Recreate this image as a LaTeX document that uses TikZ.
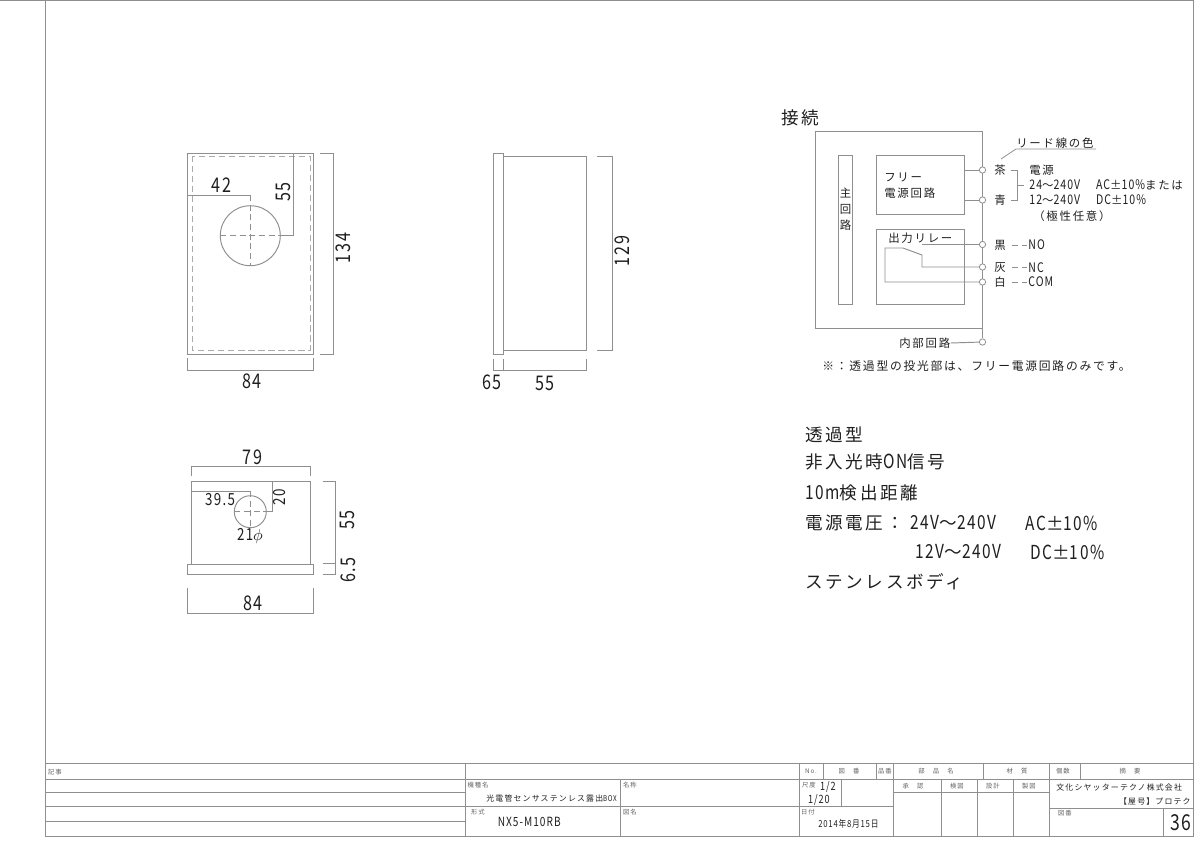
\documentclass[tikz,border=0pt]{standalone}
\usepackage{fontspec}
\setmainfont{Liberation Sans}
\newfontfamily\cjk[LetterSpace=15]{Noto Sans CJK JP}
\newfontfamily\nrw[FakeStretch=0.8,LetterSpace=8]{Noto Sans CJK JP}
\newcommand\smallnrw[1]{{\fontsize{7.5}{9}\selectfont\nrw #1}}
\newcommand\bignrw[1]{{\fontsize{11}{12}\selectfont\nrw #1}}
\definecolor{linegray}{gray}{0.56}
\definecolor{inkgray}{gray}{0.12}
\tikzset{
  part/.style={draw=linegray, line width=0.55pt},
  dim/.style={draw=linegray, line width=0.45pt},
  centerline/.style={draw=linegray, line width=0.45pt, dash pattern=on 3.5pt off 2pt},
  hidden/.style={draw=linegray!75, line width=0.55pt, dash pattern=on 3.5pt off 2.2pt},
  dimtext/.style={inner sep=0pt, text=inkgray, font=\nrw\fontsize{11.5}{13}\selectfont},
  dimsmall/.style={inner sep=0pt, text=inkgray, font=\nrw\fontsize{9.5}{11}\selectfont},
  small/.style={inner sep=0pt, text=inkgray, font=\cjk\fontsize{6.5}{9}\selectfont},
  tiny/.style={inner sep=0pt, text=inkgray!70, font=\cjk\fontsize{3.6}{4}\selectfont},
  big/.style={inner sep=0pt, anchor=west, text=inkgray, font=\cjk\fontsize{10}{12}\selectfont},
  terminal/.style={circle, draw=linegray, fill=white, line width=0.45pt, inner sep=0pt, minimum size=3.6pt}
}
\begin{document}
\begin{tikzpicture}[x=0.02cm, y=-0.02cm]
\useasboundingbox (0,0) rectangle (1200,849);

% sheet
\draw[part] (0,0.7) -- (1193,0.7) -- (1193,763);
\draw[part] (45,0.7) -- (45,836) -- (1193,836) -- (1193,763) -- (45,763);

% front view
\draw[part] (187.3,153.3) rectangle (313.3,354);
\draw[hidden] (192,156) rectangle (310,350);
\draw[part] (250.3,235.7) circle (30);
\draw[centerline] (220.3,235.7) -- (280.3,235.7);
\draw[dim] (280.3,235.7) -- (293.3,235.7) -- (293.3,153.3);
\draw[centerline] (250.3,195) -- (250.3,266);
\draw[dim] (187.3,195) -- (250.3,195);
\draw[dim] (320,153.3) -- (333,153.3) -- (333,354) -- (320,354);
\draw[dim] (187.3,358) -- (187.3,370.7) -- (313.3,370.7) -- (313.3,358);
\node[dimtext] (dimA) at (221.7,185) {42};
\node[dimtext, rotate=90] (dimB) at (283,192) {55};
\node[dimtext, rotate=90] (dimC) at (343,248) {134};
\node[dimtext] (dimD) at (252,381) {84};

% side view
\draw[part] (493.3,153.3) rectangle (503.3,354);
\draw[part] (503.3,156.7) rectangle (586,350);
\draw[dim] (596.7,156.7) -- (612.7,156.7) -- (612.7,350) -- (596.7,350);
\draw[dim] (493.3,359) -- (493.3,370.7) -- (586,370.7) -- (586,359);
\draw[dim] (503.3,359) -- (503.3,370.7);
\node[dimtext] (dimE) at (492,382) {65};
\node[dimtext] (dimF) at (545,383) {55};
\node[dimtext, rotate=90] (dimG) at (622,251) {129};

% bottom view
\draw[part] (191.7,481.7) rectangle (310,564);
\draw[part] (187.3,564) rectangle (313.3,574);
\draw[part] (250.3,511.7) circle (16);
\draw[centerline] (234.3,511.7) -- (266.3,511.7);
\draw[centerline] (250.3,491) -- (250.3,527);
\draw[dim] (266.3,511.7) -- (272.7,511.7) -- (272.7,481.7);
\draw[dim] (191.7,491) -- (250.3,491);
\draw[dim] (191.7,476) -- (191.7,466) -- (310,466) -- (310,476);
\draw[dim] (323,481.7) -- (335.7,481.7) -- (335.7,574) -- (323,574);
\draw[dim] (323,563.5) -- (335.7,563.5);
\draw[dim] (187.3,588) -- (187.3,613) -- (313.3,613) -- (313.3,588);
\node[dimtext] (dimH) at (252.7,457) {79};
\node[dimsmall] (dimI) at (220,500) {39.5};
\node[dimsmall, rotate=90] (dimJ) at (280,497) {20};
\node[dimsmall] (dimK) at (250,536) {21$\phi$};
\node[dimtext, rotate=90] (dimL) at (347,520) {55};
\node[dimtext, rotate=90] (dimM) at (348,570) {6.5};
\node[dimtext] (dimN) at (253,603) {84};

% wiring
\node[big] (title) at (781,118) {接続};
\draw[part] (815,131) rectangle (982.5,328);
\draw[part] (838,155) rectangle (852.5,304);
\draw[part] (876.5,155) rectangle (964.5,214);
\draw[part] (876.5,229) rectangle (964.5,304);
\node[small, align=center] (main) at (845.5,209) {主\\回\\路};
\node[small, anchor=west, align=left] (psu) at (884,186) {フリー\\電源回路};
\node[small, anchor=west] (relay) at (888,238) {出力リレー};
\node[terminal] (tA) at (982.5,170) {};
\node[terminal] (tB) at (982.5,200) {};
\node[terminal] (tC) at (982.5,244.5) {};
\node[terminal] (tD) at (982.5,267) {};
\node[terminal] (tE) at (982.5,282) {};
\node[terminal] (tF) at (982.5,342) {};
\draw[part] (982.5,328) -- (tF);
\draw[part] (964.5,170) -- (tA);
\draw[part] (964.5,200) -- (tB);
\draw[part] (922,244.5) -- (tC);
\draw[part] (tD) -- (922,267) -- (922,255) -- (903,248) -- (885,248) -- (885,282) -- (tE);
\node[small] (leadA) at (1000,170) {茶};
\node[small] (leadB) at (1000,200) {青};
\node[small] (leadC) at (1000,245) {黒};
\node[small] (leadD) at (1000,268) {灰};
\node[small] (leadE) at (1000,282) {白};
\draw[dim] (1001,159) -- (1016,149) -- (1096,149);
\node[small, anchor=west] (color) at (1016,143) {リード線の色};
\draw[dim] (1011,170) -- (1017,170) -- (1017,200) -- (1011,200);
\draw[dim] (1017,185) -- (1024,185);
\node[small, anchor=west] (power) at (1029,170.5) {電源};
\node[small, anchor=west] (powerA) at (1029,185) {\smallnrw{24}～\smallnrw{240V}\hspace{9pt}\smallnrw{AC}±\smallnrw{10\%}または};
\node[small, anchor=west] (powerB) at (1029,200) {\smallnrw{12}～\smallnrw{240V}\hspace{9pt}\smallnrw{DC}±\smallnrw{10\%}};
\node[small, anchor=west] (powerC) at (1033,216) {（極性任意）};
\draw[centerline] (1012,245) -- (1027,245);
\draw[centerline] (1012,267) -- (1027,267);
\draw[centerline] (1012,282) -- (1027,282);
\node[small, anchor=west] (no) at (1028,245) {\smallnrw{NO}};
\node[small, anchor=west] (nc) at (1028,268) {\smallnrw{NC}};
\node[small, anchor=west] (com) at (1028,282) {\smallnrw{COM}};
\node[small, anchor=west] (inner) at (899,343) {内部回路};
\draw[part] (inner.east) -- (tF);
\node[small, font=\cjk\fontsize{6.7}{9}\selectfont, anchor=west] (note) at (822,366.5) {※：透過型の投光部は、フリー電源回路のみです。};

% notes
\node[big] (noteA) at (805,435) {透過型};
\node[big] (noteB) at (805,462) {非入光時\bignrw{ON}信号};
\node[big] (noteC) at (805,493) {\bignrw{10m}検出距離};
\node[big] (noteD) at (805,523) {電源電圧：};
\node[big] (noteI) at (910,523) {\bignrw{24V}～\bignrw{240V}};
\node[big] (noteG) at (1025,523) {\bignrw{AC}±\bignrw{10\%}};
\node[big] (noteE) at (915,552) {\bignrw{12V}～\bignrw{240V}};
\node[big] (noteH) at (1030,552) {\bignrw{DC}±\bignrw{10\%}};
\node[big] (noteF) at (805,582) {ステンレスボディ};

% title block
\draw[part] (45,779) -- (1193,779);
\draw[part] (45,792.5) -- (465,792.5);
\draw[part] (45,806.5) -- (893,806.5);
\draw[part] (45,821) -- (465,821);
\draw[part] (465,763) -- (465,836);
\draw[part] (620,779) -- (620,836);
\draw[part] (799,763) -- (799,836);
\draw[part] (893,763) -- (893,836);
\draw[part] (1049,763) -- (1049,836);
\draw[part] (841.7,779) -- (841.7,806.5);
\draw[part] (823,763) -- (823,779);
\draw[part] (876,763) -- (876,779);
\draw[part] (983,763) -- (983,779);
\draw[part] (1080,763) -- (1080,779);
\draw[part] (941.7,779) -- (941.7,836);
\draw[part] (977,779) -- (977,836);
\draw[part] (1013,779) -- (1013,836);
\draw[part] (893,792.7) -- (1049,792.7);
\draw[part] (1049,808.5) -- (1193,808.5);
\draw[part] (1163,808.5) -- (1163,836);
\node[tiny] (blockA) at (55,772) {記事};
\node[tiny] (blockB) at (478,785.5) {機種名};
\node[small, font=\cjk\fontsize{4.5}{6}\selectfont, anchor=west] (blockC) at (486,798) {光電管センサステンレス露出{\nrw BOX}};
\node[tiny] (blockD) at (478,812) {形式};
\node[small, font=\nrw\fontsize{7.2}{9}\selectfont, anchor=west] (blockE) at (497.5,822) {NX5-M10RB};
\node[tiny] (blockF) at (630,785.5) {名称};
\node[tiny] (blockG) at (630,812) {図名};
\node[tiny] (blockH) at (811,771.5) {No.};
\node[tiny] (blockI) at (849,771.5) {図　番};
\node[tiny] (blockJ) at (885,771.5) {品番};
\node[tiny] (blockK) at (936,771.5) {部　品　名};
\node[tiny] (blockL) at (1017,771.5) {材　質};
\node[tiny] (blockM) at (1063,771.5) {個数};
\node[tiny] (blockN) at (1130,771.5) {摘　要};
\node[tiny] (blockO) at (809,785) {尺度};
\node[small, font=\nrw\fontsize{6.5}{8}\selectfont] (blockP) at (828,787) {1/2};
\node[small, font=\nrw\fontsize{6.5}{8}\selectfont] (blockQ) at (819,800) {1/20};
\node[tiny] (blockR) at (808,812) {日付};
\node[small, font=\nrw\fontsize{5.5}{8}\selectfont, anchor=west] (blockS) at (818,824) {2014年8月15日};
\node[tiny] (blockT) at (913,786) {承　認};
\node[tiny] (blockU) at (957,786) {検図};
\node[tiny] (blockV) at (993,786) {設計};
\node[tiny] (blockW) at (1029,786) {製図};
\node[small, font=\cjk\fontsize{4.5}{6}\selectfont, anchor=west] (blockX) at (1056,787) {文化シヤッターテクノ株式会社};
\node[small, font=\cjk\fontsize{4.5}{6}\selectfont, anchor=east] (blockY) at (1191,801.5) {【屋号】プロテク};
\node[tiny] (blockZ) at (1065,813) {図番};
\node[dimtext, font=\nrw\fontsize{12.5}{14}\selectfont] (sheetNo) at (1181,823) {36};
\end{tikzpicture}
\end{document}
